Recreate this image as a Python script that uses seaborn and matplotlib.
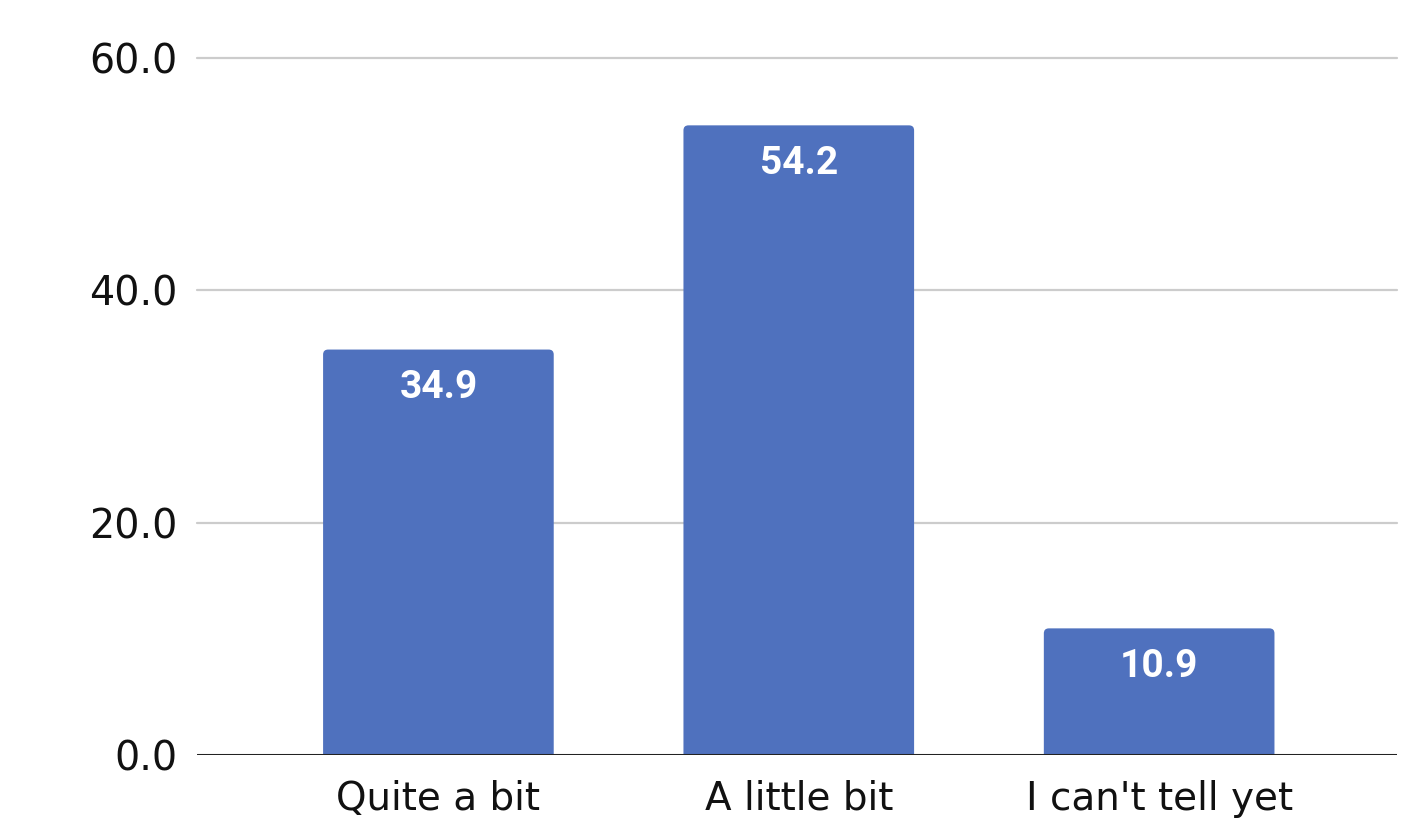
import matplotlib
matplotlib.use("Agg")
import matplotlib.pyplot as plt
from matplotlib.patches import FancyBboxPatch
import seaborn as sns
import pandas as pd

categories = ["Quite a bit", "A little bit", "I can't tell yet"]
values = [34.9, 54.2, 10.9]
y_ticks = [0, 20, 40, 60]

sns.set_theme(style="white")
plt.rcParams["font.family"] = ["DejaVu Sans"]

df = pd.DataFrame({"answer": categories, "share": values})

fig = plt.figure(figsize=(14.2, 8.21), dpi=100)
ax = fig.add_axes([0.1387, 0.0804, 0.8451, 0.849])

sns.barplot(data=df, x="answer", y="share", color="#4F71BE", saturation=1,
            width=0.64, ax=ax, zorder=3)

ax.set_ylim(0, 60)
ax.set_xlim(-0.67, 2.66)

# Swap the square bars for ones with slightly rounded top corners;
# the bottom is pushed below zero so only the top rounding shows.
radius_x = 0.014
aspect = (5 / 11.62) / radius_x
for p in list(ax.patches):
    x0, w, h = p.get_x(), p.get_width(), p.get_height()
    rounded = FancyBboxPatch((x0, -1.0), w, h + 1.0,
                             boxstyle=f"round,pad=0,rounding_size={radius_x}",
                             mutation_aspect=aspect,
                             facecolor=p.get_facecolor(), edgecolor="none",
                             zorder=3)
    p.remove()
    ax.add_patch(rounded)

ax.set_yticks(y_ticks)
ax.set_yticklabels([f"{t:.1f}" for t in y_ticks])
ax.set_xlabel("")
ax.set_ylabel("")

for t in y_ticks[1:]:
    ax.axhline(t, color="#CCCCCC", linewidth=1.6, zorder=1, clip_on=False)
ax.axhline(0, color="#222222", linewidth=2.2, zorder=4)

for s in ax.spines.values():
    s.set_visible(False)

ax.tick_params(axis="y", length=0, pad=14, labelsize=28.5, labelcolor="#111111")
ax.tick_params(axis="x", length=0, pad=18, labelsize=28, labelcolor="#111111")

for i, v in enumerate(values):
    ax.annotate(f"{v:.1f}", xy=(i, v), xytext=(0, -27.5), textcoords="offset points",
                ha="center", va="center", color="white", fontsize=28,
                fontweight="bold", family=["Roboto", "DejaVu Sans"], zorder=5)

fig.savefig("out.png", dpi=100)
